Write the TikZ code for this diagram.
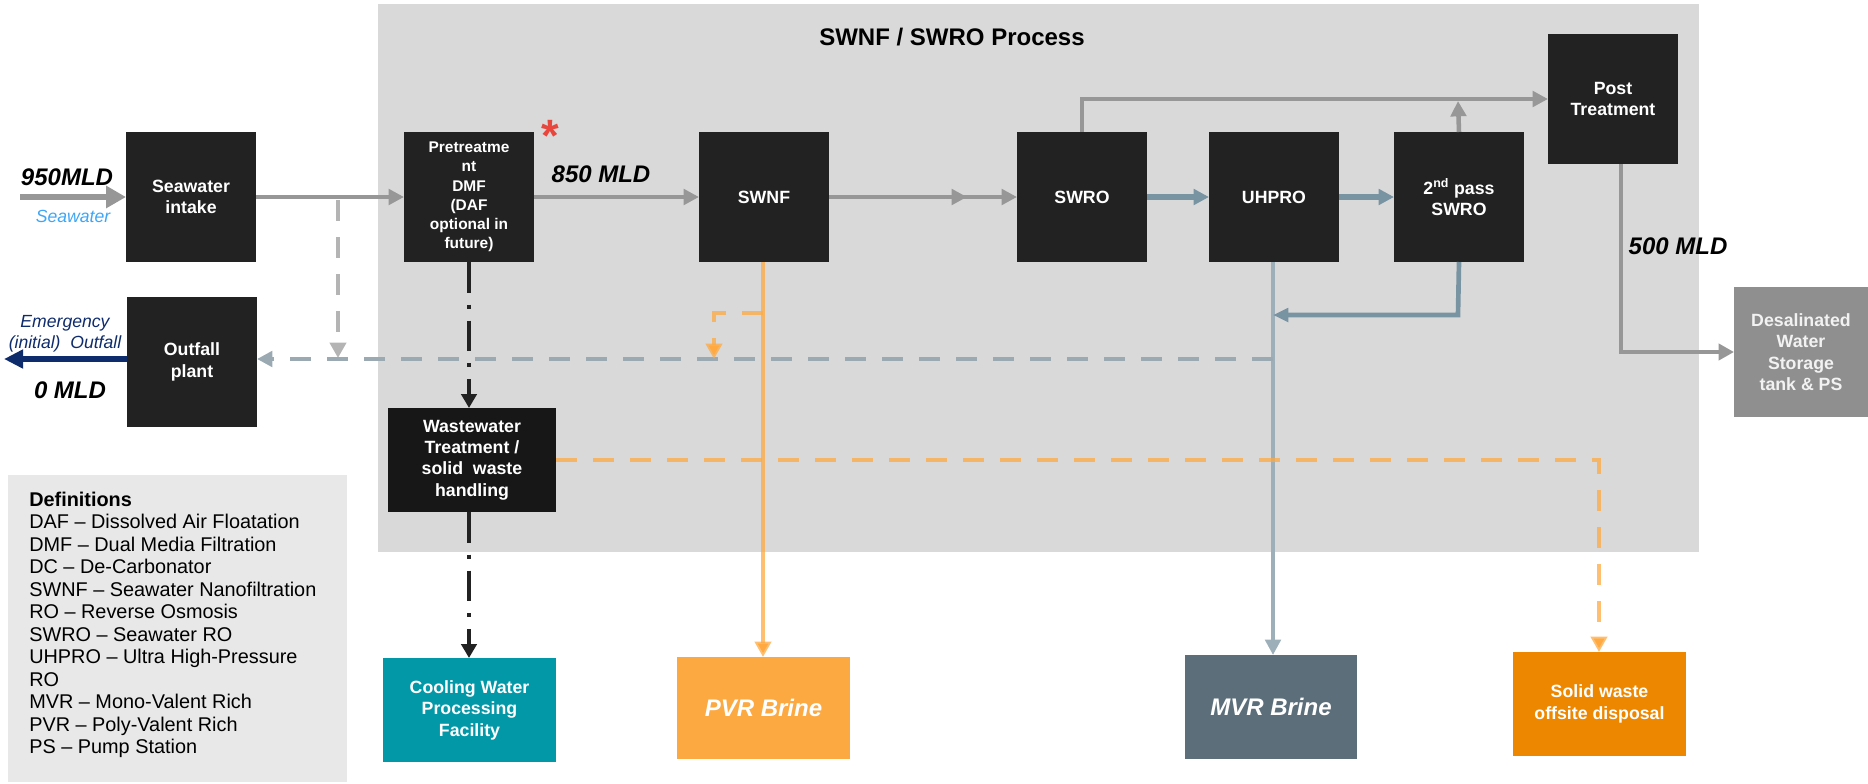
\documentclass[tikz,border=0pt]{standalone}
\usepackage{fontspec}
\setmainfont{Liberation Sans}
\usetikzlibrary{arrows.meta}
\definecolor{procbg}{HTML}{D9D9D9}
\definecolor{defbg}{HTML}{E8E8E8}
\definecolor{blkbox}{HTML}{222222}
\definecolor{blkbox2}{HTML}{171717}
\definecolor{gline}{HTML}{979797}
\definecolor{gdash}{HTML}{B4B4B4}
\definecolor{bline}{HTML}{7893A1}
\definecolor{bline2}{HTML}{9DAFB9}
\definecolor{bdash}{HTML}{9AA9B2}
\definecolor{orng}{HTML}{FFA940}
\definecolor{navyc}{HTML}{0E2B6B}
\definecolor{skyb}{HTML}{3EA6F5}
\definecolor{cwteal}{HTML}{0398A8}
\definecolor{pvrc}{HTML}{FDA942}
\definecolor{mvrc}{HTML}{5B6E7A}
\definecolor{solidc}{HTML}{EE8700}
\definecolor{desalc}{HTML}{8F8F8F}
\definecolor{astc}{HTML}{E8453C}
\begin{document}
\begin{tikzpicture}[x=0.75pt,y=-0.75pt,
  box/.style={inner sep=0pt, outer sep=0pt, text=white, align=center, anchor=center,
    font=\bfseries\fontsize{13.3}{16.1}\selectfont},
  sq/.style={box, minimum width=97.5pt, minimum height=97.5pt},
  wide/.style={box, minimum width=129.75pt, minimum height=78pt},
  bigital/.style={font=\bfseries\itshape\fontsize{18}{21}\selectfont},
  gar/.style={draw=gline, line width=3.4pt, -{Triangle[length=11.5pt,width=11.5pt]}},
  gln/.style={draw=gline, line width=3.6pt},
  bar/.style={draw=bline, line width=3.8pt, -{Triangle[length=11.5pt,width=11.5pt]}},
  bar2/.style={draw=bline2, line width=3pt, -{Triangle[length=11.5pt,width=11.5pt]}},
  bdsh/.style={draw=bdash, line width=3.6pt, dash pattern=on 15.75pt off 12pt, -{Triangle[length=11.5pt,width=11.5pt]}},
  gdsh/.style={draw=gdash, line width=3.7pt, dash pattern=on 15.75pt off 12pt, -{Triangle[length=11.5pt,width=12pt]}},
  oar/.style={draw=orng, draw opacity=0.75, line width=3.6pt, -{Triangle[length=11.5pt,width=12pt]}},
  odsh/.style={draw=orng, draw opacity=0.75, line width=3.5pt, dash pattern=on 15.75pt off 12pt, -{Triangle[length=11.5pt,width=12pt]}},
  kdd/.style={draw=blkbox, line width=2.8pt, dash pattern=on 23pt off 9pt on 3pt off 9pt, -{Triangle[length=10.5pt,width=11.5pt]}},
]
\useasboundingbox (0,0) rectangle (1868,783);
% backgrounds
\fill[procbg] (378,4) rectangle (1699,552);
\fill[defbg] (8,475) rectangle (347,782);

\node[anchor=base, font=\bfseries\fontsize{18}{21}\selectfont] (title) at (952,45) {SWNF / SWRO Process};

% boxes
\node[sq, fill=blkbox] (intake) at (191,197) {Seawater\\intake};
\node[sq, fill=blkbox] (outfall) at (192,362) {Outfall\\plant};
\node[sq, fill=blkbox, font=\bfseries\fontsize{11.6}{14.4}\selectfont] (pretreat) at (469,197) {Pretreatme\\nt\\DMF\\(DAF\\optional in\\future)};
\node[sq, fill=blkbox] (swnf) at (764,197) {SWNF};
\node[sq, fill=blkbox] (swro) at (1082,197) {SWRO};
\node[sq, fill=blkbox] (uhpro) at (1274,197) {UHPRO};
\node[sq, fill=blkbox] (pass2) at (1459,197) {2\textsuperscript{nd} pass\\SWRO};
\node[sq, fill=blkbox] (post) at (1613,99) {Post\\Treatment};
\node[sq, minimum width=100.5pt, fill=desalc, text=white!95!black] (desal) at (1801,352) {Desalinated\\Water\\Storage\\tank \& PS};
\node[wide, minimum width=126pt, fill=blkbox2] (waste) at (472,460) {Wastewater\\Treatment /\\solid\ \ waste\\handling};
\node[wide, fill=cwteal] (cool) at (469.5,710) {Cooling Water\\Processing\\Facility};
\node[wide, minimum height=76.5pt, fill=pvrc, bigital] (pvr) at (763.5,708) {PVR Brine};
\node[wide, minimum width=129pt, fill=mvrc, bigital] (mvr) at (1271,707) {MVR Brine};
\node[wide, fill=solidc] (solid) at (1599.5,704) {Solid waste\\offsite disposal};

% labels
\node[anchor=base, bigital] (l950) at (67,185) {950MLD};
\node[anchor=base, font=\itshape\fontsize{13.2}{15}\selectfont, text=skyb] (lsea) at (73,222) {Seawater};
\node[align=center, font=\itshape\fontsize{13.2}{15.75}\selectfont, text=navyc, inner sep=0pt] (lemg) at (65,334) {Emergency\\(initial)\ \ Outfall};
\node[anchor=base, bigital] (l0) at (70,398) {0 MLD};
\node[anchor=base, bigital] (l850) at (601,182) {850 MLD};
\node[anchor=base, bigital] (l500) at (1678,254) {500 MLD};
\node[anchor=base, text=astc, font=\bfseries\fontsize{34}{36}\selectfont] (ast) at (550,151) {*};

\node[anchor=west, align=left, inner sep=0pt, font=\fontsize{14.9}{16.875}\selectfont] (defs) at (29,624.8)
{\textbf{Definitions}\\DAF – Dissolved Air Floatation\\DMF – Dual Media Filtration\\DC – De-Carbonator\\SWNF – Seawater Nanofiltration\\RO – Reverse Osmosis\\SWRO – Seawater RO\\UHPRO – Ultra High-Pressure\\RO\\MVR – Mono-Valent Rich\\PVR – Poly-Valent Rich\\PS – Pump Station};

% coordinates
\coordinate (inS) at (20,197);
\coordinate (outW) at (4,359);
\coordinate (j1) at (338,200);
\coordinate (j2) at (338,358);
\coordinate (u1) at (1273,359);
\coordinate (u2) at (1273,315);
\coordinate (p2a) at (1458,315);
\coordinate (tb1) at (1082,99);
\coordinate (tb2) at (1458,101);
\coordinate (pt0) at (1621,164);
\coordinate (pt1) at (1621,352);
\coordinate (sw1) at (763,313);
\coordinate (sw2) at (714,313);
\coordinate (sw3) at (714,359);
\coordinate (ow1) at (1599,460);
\coordinate (mid1) at (967,197);
\coordinate (mid2) at (958,197);

% connectors
\draw[draw=gline, line width=4.9pt, -{Triangle[length=15pt,width=16pt]}] (inS) -- (intake.west);
\draw[gar] (intake.east) -- (pretreat.west);
\draw[gdsh] (j1) -- (j2);
\draw[gar] (pretreat.east) -- (swnf.west);
\draw[gar] (swnf.east) -- (mid1);
\draw[gar] (mid2) -- (swro.west);
\draw[gln, -{Triangle[length=11.5pt,width=11.5pt]}] (swro.north) -- (tb1) -- (post.west);
\draw[gar] (pass2.north) -- (tb2);
\draw[bar] (swro.east) -- (uhpro.west);
\draw[bar] (uhpro.east) -- (pass2.west);
\draw[bar2] (uhpro.south -| u1) -- (mvr.north -| u1);
\draw[draw=bline, line width=3.5pt, -{Triangle[length=11.5pt,width=10pt]}] (pass2.south) -- (p2a) -- (u2);
\draw[bdsh] (u1) -- (outfall.east |- u1);
\draw[draw=navyc, line width=5pt, -{Triangle[length=14.3pt,width=13.5pt]}] (outfall.west |- outW) -- (outW);
\draw[oar] (swnf.south -| sw1) -- (pvr.north -| sw1);
\draw[odsh] (sw1) -- (sw2) -- (sw3);
\draw[kdd] (pretreat.south) -- (pretreat.south |- waste.north);
\draw[kdd] (waste.south -| pretreat.south) -- (cool.north -| pretreat.south);
\draw[odsh] (waste.east) -- (ow1) -- (solid.north -| ow1);
\draw[draw=gline, line width=3.3pt, -{Triangle[length=11.5pt,width=12pt]}] (pt0) -- (pt1) -- (desal.west |- pt1);
\end{tikzpicture}
\end{document}
